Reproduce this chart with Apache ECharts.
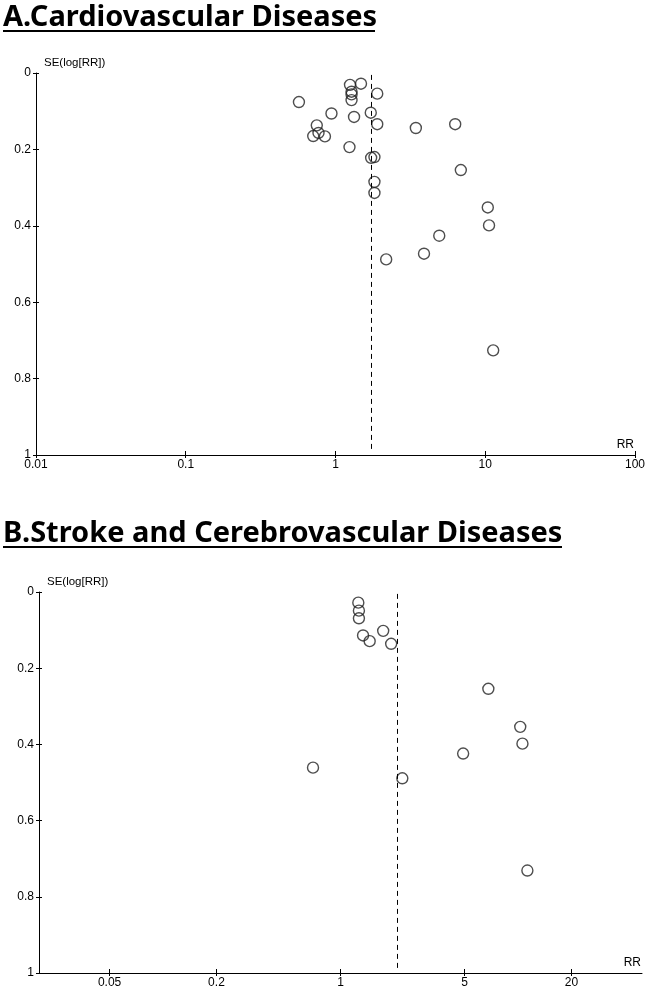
<!DOCTYPE html>
<html>
<head>
<meta charset="utf-8">
<title>Funnel plots</title>
<script src="https://cdn.jsdelivr.net/npm/echarts@6/dist/echarts.min.js"></script>
<style>
  html, body { margin: 0; padding: 0; background: #fff; }
  #chart { width: 648px; height: 992px; }
</style>
</head>
<body>
<div id="chart"></div>
<script>
// A. Cardiovascular diseases - RR and SE(log[RR]) per study
const cvdRR = [0.57, 1.25, 1.48, 1.28, 1.28, 1.28, 1.90, 0.94, 1.33, 1.72,
  1.90, 3.44, 6.30, 0.75, 0.71, 0.77, 0.85, 1.24, 1.73, 1.82,
  6.87, 1.82, 1.82, 10.4, 10.6, 4.93, 3.90, 2.18, 11.3]
const cvdSE = [0.076, 0.031, 0.028, 0.049, 0.056, 0.071, 0.054, 0.106, 0.115, 0.104,
  0.134, 0.144, 0.134, 0.137, 0.165, 0.157, 0.166, 0.194, 0.222, 0.220,
  0.254, 0.285, 0.314, 0.352, 0.399, 0.426, 0.473, 0.488, 0.726]
const cvdPooled = 1.73
const cvdRange = [0.01, 100]
const cvdTicks = [0.01, 0.1, 1, 10, 100]

// B. Stroke and cerebrovascular diseases
const strokeRR = [1.26, 1.27, 1.27, 1.34, 1.46, 1.74, 1.93, 6.81, 10.3, 10.6,
  4.91, 0.70, 2.23, 11.3]
const strokeSE = [0.028, 0.049, 0.069, 0.114, 0.129, 0.102, 0.136, 0.254, 0.354, 0.398,
  0.424, 0.461, 0.489, 0.731]
const strokePooled = 2.09
const strokeRange = [0.02, 50]
const strokeTicks = [0.05, 0.2, 1, 5, 20]

const font = 'Liberation Sans'
const log10 = v => Math.log10(v)
const fmtRR = v => String(Number(Math.pow(10, v).toPrecision(3)))

function xAxes(gridIndex, range, ticks) {
  const base = {
    type: 'value',
    gridIndex: gridIndex,
    min: log10(range[0]),
    max: log10(range[1]),
    splitLine: { show: false }
  }
  return [
    Object.assign({}, base, {
      name: 'RR',
      nameLocation: 'end',
      nameGap: -1,
      nameTextStyle: { fontFamily: font, fontSize: 12, color: '#000', align: 'right', verticalAlign: 'bottom', padding: [0, 0, 4, 0] },
      axisLine: { show: true, onZero: false, lineStyle: { color: '#000', width: 1 } },
      axisTick: { show: true, customValues: ticks.map(log10), length: 3, lineStyle: { color: '#000' } },
      axisLabel: { customValues: ticks.map(log10), formatter: fmtRR, margin: 4, fontFamily: font, fontSize: 12, color: '#000' }
    }),
    // second copy only draws the inner half of the crossing ticks
    Object.assign({}, base, {
      position: 'bottom',
      axisLine: { show: false, onZero: false },
      axisTick: { show: true, inside: true, customValues: ticks.map(log10), length: 4, lineStyle: { color: '#000' } },
      axisLabel: { show: false }
    })
  ]
}

function yAxes(gridIndex) {
  const base = {
    type: 'value',
    gridIndex: gridIndex,
    inverse: true,
    min: 0,
    max: 1,
    interval: 0.2,
    position: 'left',
    splitLine: { show: false }
  }
  return [
    Object.assign({}, base, {
      name: 'SE(log[RR])',
      nameLocation: 'start',
      nameGap: 4,
      nameTextStyle: { fontFamily: font, fontSize: 11.5, color: '#000', align: 'left', verticalAlign: 'bottom', padding: [0, 0, 0, 8] },
      axisLine: { show: true, onZero: false, lineStyle: { color: '#000', width: 1 } },
      axisTick: { show: true, length: 3, lineStyle: { color: '#000' } },
      axisLabel: { margin: 5, fontFamily: font, fontSize: 12, color: '#000' }
    }),
    Object.assign({}, base, {
      axisLine: { show: false, onZero: false },
      axisTick: { show: true, inside: true, length: 3, lineStyle: { color: '#000' } },
      axisLabel: { show: false }
    })
  ]
}

function funnelSeries(idx, rr, se, pooled) {
  return {
    type: 'scatter',
    xAxisIndex: idx * 2,
    yAxisIndex: idx * 2,
    symbol: 'circle',
    symbolSize: 11,
    itemStyle: { color: 'transparent', borderColor: '#222', borderWidth: 1.4 },
    data: rr.map((v, i) => [log10(v), se[i]]),
    markLine: {
      silent: true,
      symbol: ['none', 'none'],
      label: { show: false },
      lineStyle: { type: [5, 4], color: '#000', width: 1 },
      data: [[{ coord: [log10(pooled), 0.005] }, { coord: [log10(pooled), 0.99] }]]
    }
  }
}

const chart = echarts.init(document.getElementById('chart'))
const titleStyle = { fontFamily: 'Noto Sans', fontSize: 29, fontWeight: 'bold', color: '#000' }

const option = {
  animation: false,
  title: [
    { text: 'A.Cardiovascular Diseases', left: 3, top: 3, padding: 0, textStyle: titleStyle },
    { text: 'B.Stroke and Cerebrovascular Diseases', left: 3, top: 519, padding: 0, textStyle: titleStyle }
  ],
  graphic: [
    { type: 'rect', shape: { x: 3, y: 30, width: 372, height: 2 }, style: { fill: '#000' } },
    { type: 'rect', shape: { x: 3, y: 546, width: 559, height: 2 }, style: { fill: '#000' } }
  ],
  grid: [
    { left: 36, top: 73, width: 603, height: 382 },
    { left: 39, top: 592, width: 603, height: 381 }
  ],
  xAxis: xAxes(0, cvdRange, cvdTicks).concat(xAxes(1, strokeRange, strokeTicks)),
  yAxis: yAxes(0).concat(yAxes(1)),
  series: [
    funnelSeries(0, cvdRR, cvdSE, cvdPooled),
    funnelSeries(1, strokeRR, strokeSE, strokePooled)
  ]
}
chart.setOption(option)
</script>
</body>
</html>
